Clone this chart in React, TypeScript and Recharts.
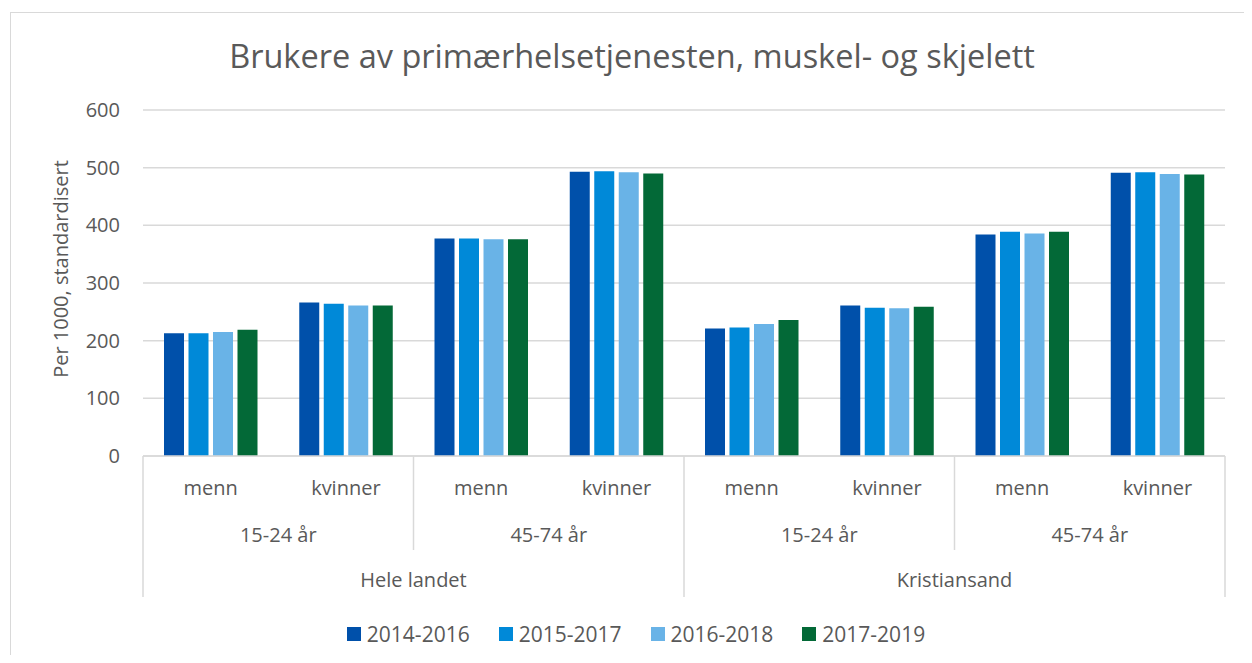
import React from 'react';
import { BarChart, Bar, XAxis, YAxis, CartesianGrid, Legend } from 'recharts';

const genders = ['menn', 'kvinner', 'menn', 'kvinner', 'menn', 'kvinner', 'menn', 'kvinner'];
const ageGroups = ['15-24 år', '15-24 år', '45-74 år', '45-74 år', '15-24 år', '15-24 år', '45-74 år', '45-74 år'];
const regions = ['Hele landet', 'Hele landet', 'Hele landet', 'Hele landet', 'Kristiansand', 'Kristiansand', 'Kristiansand', 'Kristiansand'];

const p2014 = [213, 266, 377, 493, 221, 261, 384, 491];
const p2015 = [213, 264, 377, 494, 223, 257, 389, 492];
const p2016 = [215, 261, 376, 492, 229, 256, 386, 489];
const p2017 = [219, 261, 376, 490, 236, 259, 389, 488];

const yTicks = [0, 100, 200, 300, 400, 500, 600];

const seriesNames = ['2014-2016', '2015-2017', '2016-2018', '2017-2019'];
const seriesKeys = ['p2014', 'p2015', 'p2016', 'p2017'];
const colors = ['#0050aa', '#0089d8', '#69b3e7', '#036937'];

const data = genders.map((g, i) => ({
    key: `${regions[i]}|${ageGroups[i]}|${g}`,
    gender: g,
    age: ageGroups[i],
    region: regions[i],
    p2014: p2014[i],
    p2015: p2015[i],
    p2016: p2016[i],
    p2017: p2017[i],
}));

const FONT = '"Open Sans", sans-serif';
const TEXT = '#595959';
const LINE = '#d9d9d9';

// three-level category axis: gender / age group / region, with Excel-style separators
const MultiTick = (props: any) => {
    const { x, y, index, width, visibleTicksCount } = props;
    const band = width && visibleTicksCount ? width / visibleTicksCount : 1082 / 8;
    const row = data[index];
    const out: React.ReactNode[] = [];
    if (index % 2 === 0) {
        const len = index % 4 === 0 ? 141 : 94;
        out.push(<line key="l" x1={x - band / 2} x2={x - band / 2} y1={y} y2={y + len} stroke={LINE} strokeWidth={1.5} />);
    }
    if (index === data.length - 1) {
        out.push(<line key="r" x1={x + band / 2} x2={x + band / 2} y1={y} y2={y + 141} stroke={LINE} strokeWidth={1.5} />);
    }
    out.push(
        <text key="g" x={x} y={y + 39} textAnchor="middle" fill={TEXT} fontSize={20} fontFamily={FONT}>{row.gender}</text>
    );
    if (index % 2 === 1) {
        out.push(
            <text key="a" x={x - band / 2} y={y + 86} textAnchor="middle" fill={TEXT} fontSize={20} fontFamily={FONT}>{row.age}</text>
        );
    }
    if (index % 4 === 3) {
        out.push(
            <text key="rg" x={x - band * 1.5} y={y + 131} textAnchor="middle" fill={TEXT} fontSize={20} fontFamily={FONT}>{row.region}</text>
        );
    }
    return <g>{out}</g>;
};

const YLabel = (props: any) => {
    const vb = props.viewBox || {};
    const cy = (vb.y || 102) + (vb.height || 346) / 2 - 14;
    return (
        <text x={52} y={cy} transform={`rotate(-90, 52, ${cy})`} textAnchor="middle" dominantBaseline="central"
            fill={TEXT} fontSize={20} fontFamily={FONT}>
            Per 1000, standardisert
        </text>
    );
};

const renderLegend = () => (
    <div style={{ display: 'flex', justifyContent: 'center', paddingLeft: 20, fontFamily: FONT, fontSize: 21, color: TEXT }}>
        {seriesNames.map((n, i) => (
            <div key={n} style={{ display: 'flex', alignItems: 'center', marginRight: i < seriesNames.length - 1 ? 29 : 0 }}>
                <span style={{ display: 'inline-block', width: 14, height: 14, background: colors[i], marginRight: 6 }} />
                <span>{n}</span>
            </div>
        ))}
    </div>
);

const App = () => {
    return (
        <div style={{ position: 'relative', width: 1236, height: 647, background: '#fff' }}>
            <div style={{ position: 'absolute', left: 2, top: 4, right: 0, bottom: 0, borderLeft: `1.5px solid ${LINE}`, borderTop: `1.5px solid ${LINE}` }} />
            <BarChart width={1236} height={647} data={data} margin={{ top: 102, right: 19, bottom: 49, left: 0 }}
                barSize={20} barGap={4.5} style={{ fontFamily: FONT }}>
                <text x={624} y={60} textAnchor="middle" fill={TEXT} fontSize={32.5} fontFamily={FONT}>
                    Brukere av primærhelsetjenesten, muskel- og skjelett
                </text>
                <CartesianGrid vertical={false} stroke={LINE} strokeWidth={1.5} />
                <XAxis dataKey="key" height={150} interval={0} tickLine={false} tickSize={0} tickMargin={0}
                    axisLine={{ stroke: LINE, strokeWidth: 1.5 }} tick={<MultiTick />} />
                <YAxis width={135} domain={[0, 600]} ticks={yTicks} axisLine={false} tickLine={false} tickSize={0} tickMargin={23}
                    tick={{ fill: TEXT, fontSize: 20, fontFamily: FONT }} label={<YLabel />} />
                <Legend layout="horizontal" verticalAlign="middle" content={renderLegend}
                    wrapperStyle={{ top: 612, left: 0, width: 1236 }} />
                {seriesKeys.map((k, i) => (
                    <Bar key={k} dataKey={k} name={seriesNames[i]} fill={colors[i]} isAnimationActive={false} />
                ))}
            </BarChart>
        </div>
    );
};

export default App;
